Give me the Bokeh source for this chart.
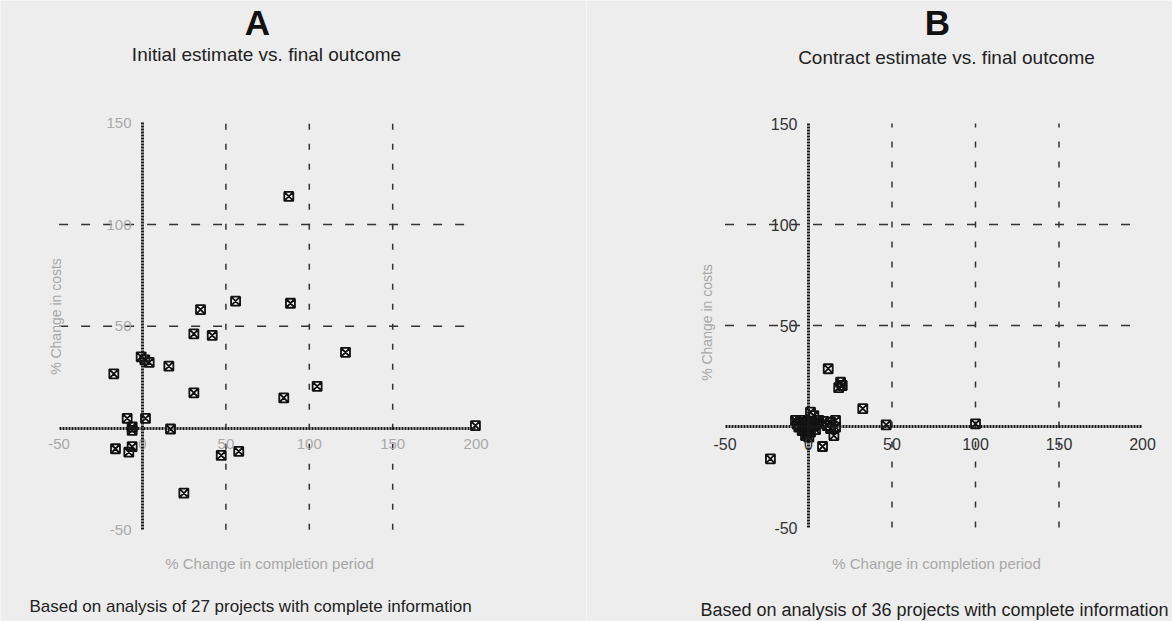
import math
from bokeh.plotting import figure
from bokeh.models import LinearAxis, FixedTicker, Label, Range1d
from bokeh.layouts import row
from bokeh.embed import file_html
from bokeh.resources import INLINE

# ---------------- data ----------------
a_x = [34.8, 30.8, 41.8, -0.8, 1.4, 4.0, 15.8, -17.2, 30.8, -9.2, 1.8, -6.2, -6.2, 16.8,
       -16.2, -8.2, -6.2, 47.2, 57.7, 24.8, 55.8, 87.7, 88.7, 121.7, 104.7, 84.7, 199.6]
a_y = [58.2, 46.3, 45.5, 35.0, 33.5, 32.2, 30.4, 26.6, 17.3, 4.7, 4.7, 0.5, -1.2, -0.5,
       -10.2, -11.9, -9.2, -13.5, -11.5, -32.0, 62.3, 113.8, 61.3, 37.2, 20.5, 14.8, 1.2]

b_x = [11.8, 19.2, 20.2, 18.1, 32.5, 46.5, -22.8, 100.0,
       1.2, 3.2, -7.8, -4.8, -1.8, 1.2, 6.2, 9.2, 13.2, 16.2, -5.8, 0.2, -3.8, 1.2,
       16.2, 15.2, -1.8, 0.2, 8.4,
       -6.8, -3.8, 3.2, 5.2, 11.2, -2.8, -0.8, 4.2, 13.2]
b_y = [28.6, 21.9, 20.3, 19.2, 8.8, 0.8, -16.0, 1.3,
       7.1, 5.4, 3.0, 3.0, 2.1, 2.1, 3.0, 2.5, 2.1, 3.0, -0.3, -0.3, -2.0, -2.8,
       -0.3, -4.5, -4.5, -5.3, -9.9,
       1.2, 0.5, 0.3, 1.5, 0.5, -1.0, -3.5, -1.5, -1.0]

x_ticks = [-50, 0, 50, 100, 150, 200]
y_ticks = [-50, 50, 100, 150]
v_ref = [50, 100, 150]
h_ref = [50, 100]

panel_letters = ["A", "B"]
subtitles = ["Initial estimate vs. final outcome", "Contract estimate vs. final outcome"]
footers = ["Based on analysis of 27 projects with complete information",
           "Based on analysis of 36 projects with complete information"]
x_title = "% Change in completion period"
y_title = "% Change in costs"

# ---------------- styling ----------------
BG = "#ededed"
W, H = 586, 621
FONT = "Liberation Sans"


def make_panel(i, xs, ys, page_left, px0, sx, py0, sy, tick_color, L):
    # frame covers the whole canvas; page pixel -> data conversion for text placement
    def dx(px):
        return (px - px0) / sx

    def dy(py):
        return (py0 - py) / sy

    p = figure(width=W, height=H, output_backend="svg", toolbar_location=None,
               x_axis_location=None, y_axis_location=None,
               x_range=Range1d(dx(page_left), dx(page_left + W)),
               y_range=Range1d(dy(H), dy(0)),
               min_border=0, min_border_left=0, min_border_right=0,
               min_border_top=0, min_border_bottom=0)
    p.background_fill_color = BG
    p.border_fill_color = BG
    p.outline_line_color = None
    p.grid.visible = False

    xmin, xmax = min(x_ticks), max(x_ticks)
    ymin, ymax = min(y_ticks), max(y_ticks)

    # dashed reference lines
    p.segment(x0=v_ref, x1=v_ref, y0=[ymin] * len(v_ref), y1=[ymax] * len(v_ref),
              line_color="#333333", line_width=1.5, line_dash="6 14")
    p.segment(x0=[xmin] * len(h_ref), x1=[xmax] * len(h_ref), y0=h_ref, y1=h_ref,
              line_color="#333333", line_width=1.5, line_dash="9 13")

    # axes through the origin
    xax = LinearAxis(fixed_location=0, bounds=(xmin, xmax), ticker=FixedTicker(ticks=x_ticks),
                     major_label_overrides={t: str(t) for t in x_ticks})
    yax = LinearAxis(fixed_location=0, bounds=(ymin, ymax), ticker=FixedTicker(ticks=y_ticks),
                     major_label_overrides={t: str(t) for t in y_ticks})
    for ax in (xax, yax):
        ax.axis_line_color = "#1a1a1a"
        ax.axis_line_width = 3
        ax.axis_line_dash = "2 1"
        ax.major_tick_line_color = None
        ax.minor_tick_line_color = None
        ax.major_label_text_color = tick_color
        ax.major_label_text_font = FONT
        ax.major_label_text_font_size = L["tick_fs"]
        ax.major_label_standoff = 5
    p.add_layout(xax, "below")
    p.add_layout(yax, "left")

    p.scatter(xs, ys, marker="square_x", size=9, line_color="#111111", line_width=1.8,
              fill_color=None)

    p.add_layout(Label(x=dx(L["cx"]), y=dy(22), text=panel_letters[i], text_font=FONT,
                       text_font_style="bold", text_font_size="35px", text_color="#111111",
                       text_align="center", text_baseline="middle"))
    p.add_layout(Label(x=dx(L["sub_cx"]), y=dy(L["sub_y"]), text=subtitles[i], text_font=FONT,
                       text_font_size="19px", text_color="#222222",
                       text_align="center", text_baseline="middle"))
    p.add_layout(Label(x=dx(L["xt_cx"]), y=dy(563), text=x_title, text_font=FONT,
                       text_font_size="15px", text_color="#a8a8a8",
                       text_align="center", text_baseline="middle"))
    p.add_layout(Label(x=dx(L["yt_x"]), y=dy(L["yt_cy"]), text=y_title, text_font=FONT,
                       text_font_size="14px", text_color="#a8a8a8", angle=math.pi / 2,
                       text_align="center", text_baseline="middle"))
    p.add_layout(Label(x=dx(L["ft_cx"]), y=dy(L["ft_y"]), text=footers[i], text_font=FONT,
                       text_font_size=L["ft_fs"], text_color="#222222",
                       text_align="center", text_baseline="middle"))
    return p


pa = make_panel(0, a_x, a_y, 0, 142, 1.668, 427.5, 2.035, "#a9a9a9",
                dict(cx=257, sub_cx=266, sub_y=54, xt_cx=269, yt_x=55, yt_cy=316,
                     ft_cx=250, ft_y=606, ft_fs="17px", tick_fs="15px"))
pb = make_panel(1, b_x, b_y, W, 808, 1.67, 426, 2.02, "#333333",
                dict(cx=937, sub_cx=946, sub_y=57, xt_cx=936, yt_x=706, yt_cy=322,
                     ft_cx=934, ft_y=609, ft_fs="18px", tick_fs="16px"))

layout = row(pa, pb)
open("out.html", "w").write(file_html(layout, INLINE))
